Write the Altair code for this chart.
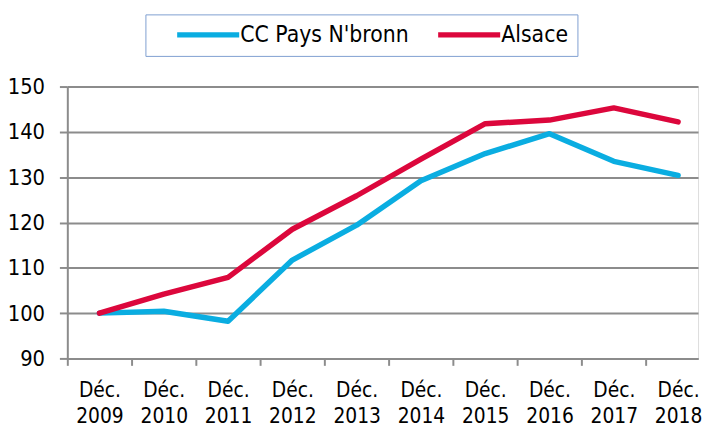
import altair as alt
import pandas as pd

years = [2009, 2010, 2011, 2012, 2013, 2014, 2015, 2016, 2017, 2018]
cc_pays = [100.0, 100.4, 98.2, 111.7, 119.4, 129.2, 135.2, 139.6, 133.5, 130.4]
alsace = [100.0, 104.2, 107.9, 118.5, 125.9, 134.0, 141.8, 142.6, 145.3, 142.2]
series_names = ["CC Pays N'bronn", "Alsace"]
series_colors = ["#0AADE1", "#DC073C"]

df = pd.DataFrame(
    {"year": years * 2,
     "value": cc_pays + alsace,
     "serie": [series_names[0]] * len(years) + [series_names[1]] * len(years)}
)

FONT = "DejaVu Sans Condensed"
step = 65
NB = "\u00a0"

chart = alt.Chart(df).mark_line(strokeWidth=5.5, strokeCap="round", strokeJoin="round").encode(
    x=alt.X("year:Q",
            scale=alt.Scale(domain=[2008.5, 2018.31], nice=False, zero=False),
            axis=alt.Axis(values=years, format="d", title=None, grid=False,
                          labelExpr="['Déc.', datum.label]",
                          tickOffset=-step / 2, labelOffset=step / 2,
                          tickSize=7, tickWidth=2, tickColor="#8c8c8c",
                          domainColor="#8c8c8c", domainWidth=2,
                          labelFont=FONT, labelFontSize=21, labelColor="#000",
                          labelPadding=15, labelLineHeight=26, labelFlush=False,
                          labelOverlap=False)),
    y=alt.Y("value:Q",
            scale=alt.Scale(domain=[90, 150], nice=False, zero=False),
            axis=alt.Axis(values=[90, 100, 110, 120, 130, 140, 150], title=None,
                          grid=True, gridColor="#8c8c8c", gridWidth=2,
                          tickSize=8, tickWidth=2, tickColor="#8c8c8c",
                          domainColor="#8c8c8c", domainWidth=2,
                          labelFont=FONT, labelFontSize=22, labelColor="#000",
                          labelPadding=15)),
    color=alt.Color("serie:N",
                    scale=alt.Scale(domain=series_names, range=series_colors),
                    legend=alt.Legend(title=None, orient="none", legendX=79, legendY=-73,
                                      direction="horizontal",
                                      symbolType="M1.5,0H9.6", symbolStrokeWidth=5.5,
                                      symbolSize=240, labelFont=FONT, labelFontSize=23,
                                      labelColor="#000", columnPadding=6,
                                      strokeColor="#7f9fd0", padding=9,
                                      labelOffset=64, labelLimit=400,
                                      labelExpr="datum.label == 'Alsace' ? 'Alsace" + NB * 3 + "' : datum.label")),
).properties(
    width=638, height=275,
    autosize=alt.AutoSizeParams(type="none"),
    padding={"left": 60, "top": 77, "right": 4, "bottom": 74},
).configure_view(stroke=None).configure(background="white")

chart.save("out.html", embed_options={"renderer": "svg", "actions": False})
